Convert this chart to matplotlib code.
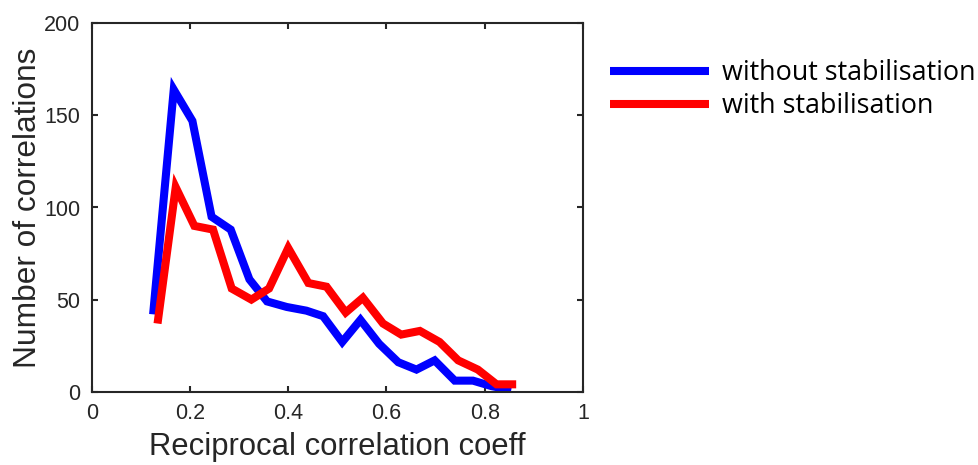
import matplotlib
matplotlib.use("Agg")
import matplotlib.pyplot as plt

x_without = [0.125, 0.167, 0.205, 0.244, 0.283, 0.321, 0.357, 0.397, 0.437, 0.471,
             0.510, 0.547, 0.585, 0.624, 0.661, 0.698, 0.739, 0.776, 0.814, 0.854]
y_without = [42, 164, 147, 95, 88, 61, 49, 46, 44, 41,
             27, 39, 26, 16, 12, 17, 6, 6, 3, 1]
x_with = [0.134, 0.171, 0.209, 0.247, 0.285, 0.325, 0.361, 0.400, 0.441, 0.478,
          0.517, 0.552, 0.593, 0.630, 0.668, 0.708, 0.746, 0.786, 0.824, 0.864]
y_with = [37, 111, 90, 88, 56, 50, 56, 78, 59, 57,
          43, 51, 37, 31, 33, 27, 17, 12, 4, 4]
xticks = [0, 0.2, 0.4, 0.6, 0.8, 1]
xtick_labels = ["0", "0.2", "0.4", "0.6", "0.8", "1"]
yticks = [0, 50, 100, 150, 200]

fig = plt.figure(figsize=(9.79, 4.65), dpi=100)
ax = fig.add_axes([91.7/979, (465-391.7)/465, (583-91.7)/979, 368.4/465])

lw = 5.8
ax.plot(x_without, y_without, color="#0000ff", lw=lw, label="without stabilisation",
        solid_joinstyle="miter", solid_capstyle="butt")
ax.plot(x_with, y_with, color="#ff0000", lw=lw, label="with stabilisation",
        solid_joinstyle="miter", solid_capstyle="butt")

ax.set_xlim(0, 1)
ax.set_ylim(0, 200)
ax.set_xticks(xticks)
ax.set_xticklabels(xtick_labels)
ax.set_yticks(yticks)

dark = "#262626"
for s in ax.spines.values():
    s.set_color(dark)
    s.set_linewidth(1.5)
ax.tick_params(direction="in", length=4, width=1.5, color=dark, labelcolor=dark,
               top=True, right=True, labelsize=15.5, pad=8,
               labelfontfamily="Liberation Sans")

ax.set_xlabel("Reciprocal correlation coeff", fontsize=22.3, color=dark,
              family="Liberation Sans", labelpad=6)
ax.set_ylabel("Number of correlations", fontsize=22.8, color=dark,
              family="Liberation Sans", labelpad=1)

leg = ax.legend(loc="upper left", bbox_to_anchor=(610/979, 1 - 59/465),
                bbox_transform=fig.transFigure, frameon=False,
                prop={"family": "Open Sans", "size": 19.4},
                handlelength=3.67, handletextpad=0.48, labelspacing=0.19,
                borderaxespad=0, borderpad=0)

fig.savefig("out.png", dpi=100)
